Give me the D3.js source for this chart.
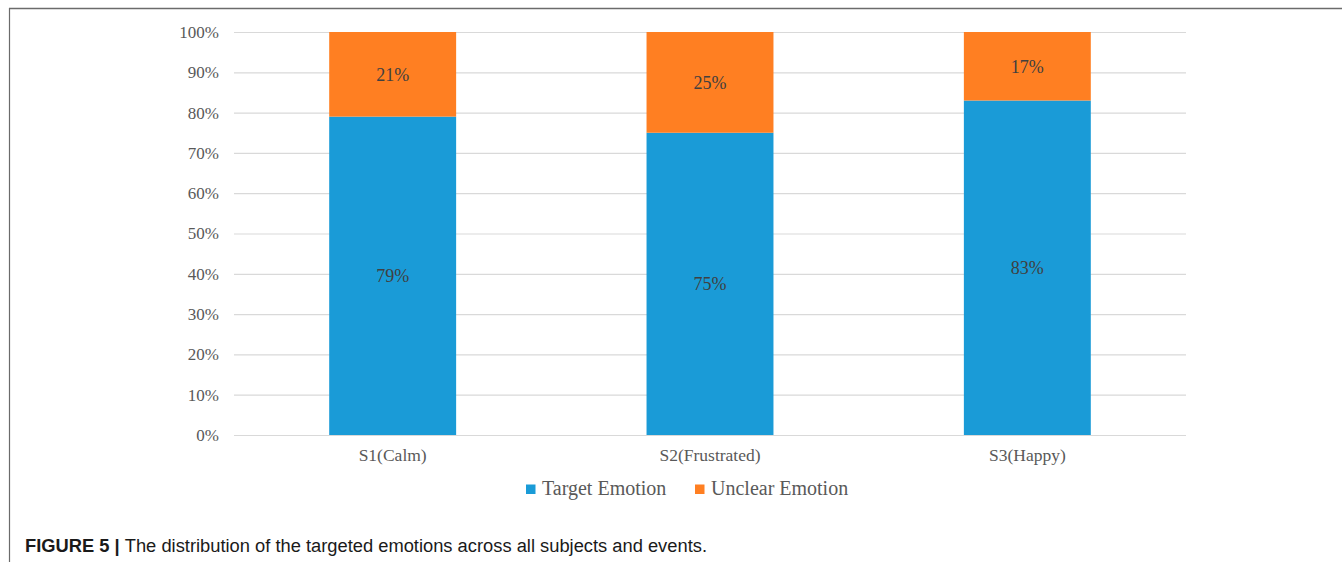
<!DOCTYPE html>
<html>
<head>
<meta charset="utf-8">
<script src="https://cdn.jsdelivr.net/npm/d3@7"></script>
<style>
  html, body { margin: 0; padding: 0; background: #fff; }
  svg { display: block; }
</style>
</head>
<body>
<svg id="chart" width="1342" height="562"></svg>
<script>
// Stacked percentage bars: share of target vs unclear emotion per scenario
const categories = ["S1(Calm)", "S2(Frustrated)", "S3(Happy)"];
const targetValues = [79, 75, 83];
const unclearValues = [21, 25, 17];
const seriesNames = ["Target Emotion", "Unclear Emotion"];
const yTicks = [0, 10, 20, 30, 40, 50, 60, 70, 80, 90, 100];

const colors = ["#1A9BD7", "#FF7F22"];
const serif = "'Liberation Serif', 'Times New Roman', serif";

const svg = d3.select("#chart");

// Outer frame (top and left rules)
svg.append("line").attr("x1", 9).attr("x2", 1342).attr("y1", 8.5).attr("y2", 8.5)
  .attr("stroke", "#6b6b6b").attr("stroke-width", 1.5);
svg.append("line").attr("x1", 9.5).attr("x2", 9.5).attr("y1", 8).attr("y2", 562)
  .attr("stroke", "#6b6b6b").attr("stroke-width", 1.2);

const plot = { left: 234, right: 1186, top: 32, bottom: 435 };

const x = d3.scaleBand().domain(categories).range([plot.left, plot.right]).paddingInner(0.6).paddingOuter(0.3);
const y = d3.scaleLinear().domain([0, 100]).range([plot.bottom, plot.top]);

// Gridlines + y labels
const yAxis = d3.axisLeft(y).tickValues(yTicks).tickFormat(d => d + "%").tickSize(-(plot.right - plot.left)).tickPadding(15);
const gy = svg.append("g").attr("transform", `translate(${plot.left},0)`).call(yAxis);
gy.select(".domain").remove();
gy.selectAll(".tick line").attr("stroke", "#d9d9d9").attr("stroke-width", 1.2);
gy.selectAll(".tick text").attr("fill", "#595959").style("font-family", serif).style("font-size", "17px");

// Stacked data
const rows = categories.map((c, i) => ({ cat: c, target: targetValues[i], unclear: unclearValues[i] }));
const stack = d3.stack().keys(["target", "unclear"])(rows);

const layers = svg.append("g").selectAll("g").data(stack).join("g").attr("fill", (d, i) => colors[i]);
layers.selectAll("rect").data(d => d).join("rect")
  .attr("x", d => x(d.data.cat))
  .attr("width", x.bandwidth())
  .attr("y", d => y(d[1]))
  .attr("height", d => y(d[0]) - y(d[1]));

// Value labels centred in each segment
layers.selectAll("text").data((d, i) => d.map(s => ({ s, key: d.key }))).join("text")
  .attr("x", d => x(d.s.data.cat) + x.bandwidth() / 2)
  .attr("y", d => y((d.s[0] + d.s[1]) / 2))
  .attr("dy", "0.35em")
  .attr("text-anchor", "middle")
  .attr("fill", "#404040")
  .style("font-family", serif).style("font-size", "18px")
  .text(d => d.s.data[d.key] + "%");

// Category axis labels
const xAxis = d3.axisBottom(x).tickSize(0).tickPadding(14);
const gx = svg.append("g").attr("transform", `translate(0,${plot.bottom})`).call(xAxis);
gx.select(".domain").remove();
gx.selectAll(".tick text").attr("fill", "#595959").style("font-family", serif).style("font-size", "17.5px");

// Legend
const legendItems = [{ name: seriesNames[0], x: 526 }, { name: seriesNames[1], x: 695 }];
const lg = svg.append("g").selectAll("g").data(legendItems).join("g")
  .attr("transform", d => `translate(${d.x},489)`);
lg.append("rect").attr("x", 0).attr("y", -4.5).attr("width", 9.5).attr("height", 9.5)
  .attr("fill", (d, i) => colors[i]);
lg.append("text").attr("x", 16).attr("y", 6).attr("fill", "#595959")
  .style("font-family", serif).style("font-size", "20px").text(d => d.name);

// Caption
const cap = svg.append("text").attr("x", 25).attr("y", 552)
  .attr("textLength", 682).attr("lengthAdjust", "spacingAndGlyphs")
  .style("font-family", "'Liberation Sans', Arial, sans-serif")
  .style("font-size", "18px").attr("fill", "#1a1a1a");
cap.append("tspan").style("font-weight", "bold").text("FIGURE 5 | ");
cap.append("tspan").text("The distribution of the targeted emotions across all subjects and events.");
</script>
</body>
</html>
